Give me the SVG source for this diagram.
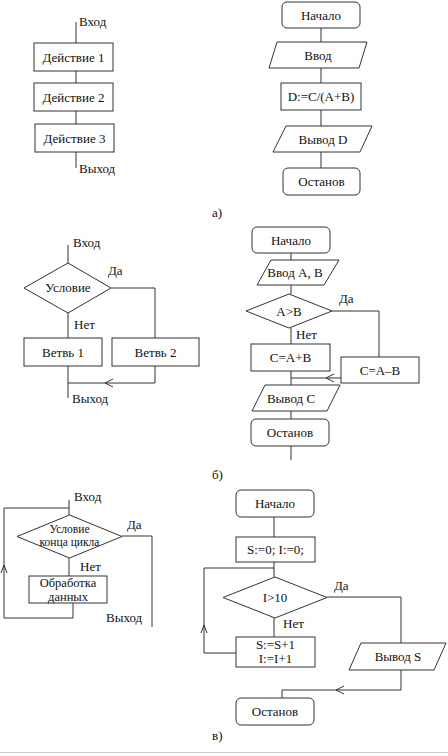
<svg xmlns="http://www.w3.org/2000/svg" width="448" height="756" viewBox="0 0 448 756" font-family="'Liberation Serif','DejaVu Serif',serif">
<style>
.s{fill:#fff;stroke:#333;stroke-width:1}
.c{fill:none;stroke:#333;stroke-width:1}
.t{font-family:'Liberation Serif','DejaVu Serif',serif;font-size:13px;fill:#111}
.m{text-anchor:middle}
.sm{font-size:11.5px}
.md{font-size:12.5px}
</style>
<rect width="448" height="756" fill="#fff"/>
<g id="connectors">
<path class="c" d="M76,22V43M76,71V83M76,111V124M76,152V168"/>
<path class="c" d="M321,28V42M321,68V83M321,110V126M321,152V168"/>
<path class="c" d="M68,245V263M111,288H155V338M68,313V338M68,366V398M155,366V383H68"/>
<path class="c" d="M113,379L105,383L113,387"/>
<path class="c" d="M291,253V260M291,285V294M332,311H379V357M291,328V344M291,371V385M341,378H291M291,411V419M291,446V460"/>
<path class="c" d="M334,374L326,378L334,382"/>
<path class="c" d="M69,500V515M69,558V576M122,536H152V627M73,603V618H4V508H69"/>
<path class="c" d="M1,573L4,565L7,573"/>
<path class="c" d="M274,517V537M274,562V577M327,597H401V643M274,618V637M236,653H204V568H274M401,670V690H282V698"/>
<path class="c" d="M201,633L204,625L207,633"/>
<path class="c" d="M344,686L336,690L344,694"/>
</g>
<g id="a_in"><text class="t" x="79" y="26">Вход</text></g>
<g id="a_act1"><rect class="s" x="34" y="43" width="79" height="28"/><text class="t m" x="73.5" y="61.5">Действие 1</text></g>
<g id="a_act2"><rect class="s" x="34" y="83" width="79" height="28"/><text class="t m" x="73.5" y="101.5">Действие 2</text></g>
<g id="a_act3"><rect class="s" x="35" y="124" width="79" height="28"/><text class="t m" x="74.5" y="142.5">Действие 3</text></g>
<g id="a_out"><text class="t" x="79" y="173">Выход</text></g>
<g id="a_start"><rect class="s" x="282" y="2" width="78" height="26" rx="5"/><text class="t m" x="321" y="19.5">Начало</text></g>
<g id="a_input"><polygon class="s" points="277,42 367,42 359,68 269,68"/><text class="t m" x="318" y="59.5">Ввод</text></g>
<g id="a_calc"><rect class="s" x="281" y="83" width="80" height="27"/><text class="t m" x="321" y="101">D:=C/(A+B)</text></g>
<g id="a_output"><polygon class="s" points="286,126 372,126 360,152 273,152"/><text class="t m" x="323" y="143.5">Вывод D</text></g>
<g id="a_stop"><rect class="s" x="283" y="168" width="77" height="27" rx="5"/><text class="t m" x="321.5" y="186">Останов</text></g>
<g id="label_a"><text class="t" x="212" y="217">а)</text></g>
<g id="b_in"><text class="t" x="73" y="247">Вход</text></g>
<g id="b_cond"><polygon class="s" points="68,263 111,288 68,313 24,288"/><text class="t m" x="68" y="292">Условие</text></g>
<g id="b_yes"><text class="t" x="108" y="275">Да</text></g>
<g id="b_no"><text class="t" x="74" y="329">Нет</text></g>
<g id="b_br1"><rect class="s" x="24" y="338" width="78" height="28"/><text class="t m" x="63" y="356.5">Ветвь 1</text></g>
<g id="b_br2"><rect class="s" x="112" y="338" width="87" height="28"/><text class="t m" x="155.5" y="356.5">Ветвь 2</text></g>
<g id="b_out"><text class="t" x="72" y="403">Выход</text></g>
<g id="b_start"><rect class="s" x="252" y="227" width="78" height="26" rx="5"/><text class="t m" x="291" y="244.5">Начало</text></g>
<g id="b_input"><polygon class="s" points="271,260 339,260 324,285 257,285"/><text class="t m" x="295" y="277">Ввод А, В</text></g>
<g id="b_dec"><polygon class="s" points="289,294 332,311 289,328 246,311"/><text class="t m" x="289" y="315.5">A&gt;B</text></g>
<g id="b_yes2"><text class="t" x="339" y="303">Да</text></g>
<g id="b_no2"><text class="t" x="296" y="339">Нет</text></g>
<g id="b_sum"><rect class="s" x="251" y="344" width="79" height="27"/><text class="t m" x="290.5" y="362">C=A+B</text></g>
<g id="b_diff"><rect class="s" x="341" y="357" width="78" height="26"/><text class="t m" x="380" y="374.5">C=A–B</text></g>
<g id="b_output"><polygon class="s" points="265,385 340,385 327,411 252,411"/><text class="t m" x="291" y="402.5">Вывод С</text></g>
<g id="b_stop"><rect class="s" x="251" y="419" width="78" height="27" rx="5"/><text class="t m" x="290" y="437">Останов</text></g>
<g id="label_b"><text class="t" x="212" y="479">б)</text></g>
<g id="c_in"><text class="t" x="74" y="501">Вход</text></g>
<g id="c_cond"><polygon class="s" points="69.5,515 122,536.5 69.5,558 17,536.5"/><text class="t m sm" x="69.5" y="533">Условие</text><text class="t m sm" x="69.5" y="546">конца цикла</text></g>
<g id="c_yes"><text class="t" x="127" y="529">Да</text></g>
<g id="c_no"><text class="t" x="80" y="571">Нет</text></g>
<g id="c_proc"><rect class="s" x="29" y="576" width="78" height="27"/><text class="t m md" x="68" y="587">Обработка</text><text class="t m md" x="68" y="600.5">данных</text></g>
<g id="c_out"><text class="t" x="106" y="622">Выход</text></g>
<g id="c_start"><rect class="s" x="236" y="490" width="78" height="27" rx="5"/><text class="t m" x="275" y="508">Начало</text></g>
<g id="c_init"><rect class="s" x="236" y="537" width="79" height="25"/><text class="t m" x="275.5" y="554">S:=0; I:=0;</text></g>
<g id="c_dec"><polygon class="s" points="275,577 327,597.5 275,618 223,597.5"/><text class="t m" x="275" y="602">I&gt;10</text></g>
<g id="c_yes2"><text class="t" x="334" y="590">Да</text></g>
<g id="c_no2"><text class="t" x="283" y="628">Нет</text></g>
<g id="c_body"><rect class="s" x="236" y="637" width="79" height="30"/><text class="t m" x="275.5" y="648.5">S:=S+1</text><text class="t m" x="275.5" y="663">I:=I+1</text></g>
<g id="c_output"><polygon class="s" points="361,643 446,643 434,670 349,670"/><text class="t m" x="398" y="661">Вывод S</text></g>
<g id="c_stop"><rect class="s" x="236" y="698" width="78" height="27" rx="5"/><text class="t m" x="275" y="716">Останов</text></g>
<g id="label_c"><text class="t" x="212" y="740">в)</text></g>
<line x1="0" y1="752.5" x2="448" y2="752.5" stroke="#ccc" stroke-width="1"/>
</svg>
